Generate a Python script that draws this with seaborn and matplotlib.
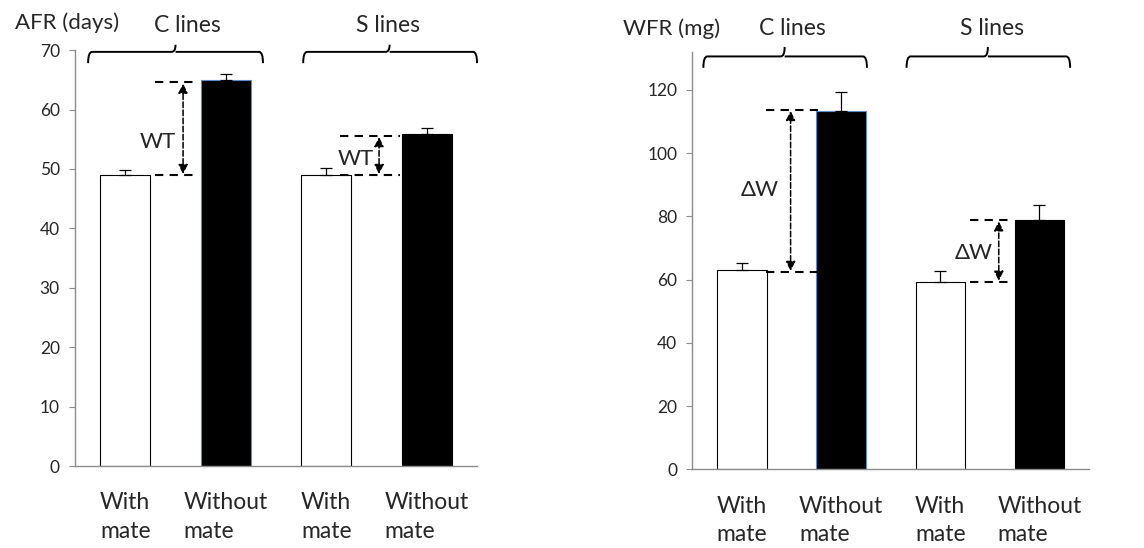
import numpy as np
import pandas as pd
import matplotlib
matplotlib.use("Agg")
import matplotlib.pyplot as plt
import seaborn as sns
from matplotlib.path import Path
from matplotlib.patches import PathPatch

# data
bar_keys = ["C_with", "C_without", "S_with", "S_without"]
tick_labels = ["With\nmate", "Without\nmate", "With\nmate", "Without\nmate"]
afr_values = [48.9, 65.0, 49.0, 55.9]
afr_errors = [1.0, 1.0, 1.1, 1.0]
wfr_values = [63.1, 113.2, 59.2, 78.9]
wfr_errors = [2.3, 6.0, 3.6, 4.7]
bar_colors = ["white", "black", "white", "black"]

sns.set_style("white")
plt.rcParams["font.family"] = ["Lato", "DejaVu Sans"]

GRAY = "#8c8c8c"

fig = plt.figure(figsize=(11.44, 5.48), dpi=100)
ax1 = fig.add_axes([0.0656, 0.1496, 0.3514, 0.759])
ax2 = fig.add_axes([0.6053, 0.1436, 0.3466, 0.7615])


def draw_bars(ax, values, errors):
    df = pd.DataFrame({"key": bar_keys, "value": values})
    sns.barplot(data=df, x="key", y="value", hue="key", palette=bar_colors,
                legend=False, width=0.5, edgecolor="black", linewidth=0.8, ax=ax)
    # blue-ish outline on the first black bar, like the original
    ax.patches[1].set_edgecolor("#5b8bc9")
    ax.errorbar(range(4), values, yerr=[[0] * 4, errors], fmt="none",
                ecolor="black", elinewidth=0.9, capsize=4, capthick=0.9)
    ax.set_xlim(-0.5, 3.5)
    ax.set_xlabel("")
    ax.set_ylabel("")
    ax.set_xticks(range(4))
    ax.set_xticklabels(tick_labels, fontsize=16.5, linespacing=1.45,
                       multialignment="left")
    ax.tick_params(axis="x", length=0, pad=19)
    ax.tick_params(axis="y", length=4, width=0.8, color=GRAY, direction="out",
                   labelsize=12.5, pad=7, left=True)
    for s in ["top", "right"]:
        ax.spines[s].set_visible(False)
    for s in ["left", "bottom"]:
        ax.spines[s].set_color(GRAY)
        ax.spines[s].set_linewidth(1.0)


def brace(ax, x0, x1, xc, y_end, y_bar, y_tip):
    dx = 0.04
    verts = [(x0, y_end), (x0, y_bar), (x0 + dx, y_bar),
             (xc - dx, y_bar), (xc, y_bar), (xc, y_tip),
             (xc, y_bar), (xc + dx, y_bar),
             (x1 - dx, y_bar), (x1, y_bar), (x1, y_end)]
    codes = [Path.MOVETO, Path.CURVE3, Path.CURVE3,
             Path.LINETO, Path.CURVE3, Path.CURVE3,
             Path.MOVETO, Path.LINETO,
             Path.LINETO, Path.CURVE3, Path.CURVE3]
    ax.add_patch(PathPatch(Path(verts, codes), fill=False, lw=1.4,
                           color="black", clip_on=False))


def delta_arrow(ax, x_lo, x_hi, x_arrow, y_low, y_high, label, lx, ly):
    for y in (y_low, y_high):
        ax.plot([x_lo, x_hi], [y, y], color="black", lw=1.5,
                ls=(0, (4, 3)), clip_on=False)
    ax.annotate("", xy=(x_arrow, y_high), xytext=(x_arrow, y_low),
                arrowprops=dict(arrowstyle="<|-|>", color="black", lw=1.1,
                                ls="--", mutation_scale=14,
                                shrinkA=1, shrinkB=1))
    ax.text(lx, ly, label, ha="center", va="center", fontsize=16)


# left panel: AFR
draw_bars(ax1, afr_values, afr_errors)
ax1.set_ylim(0, 70)
ax1.set_yticks(range(0, 71, 10))
brace(ax1, -0.37, 1.37, 0.5, 67.8, 69.7, 70.9)
brace(ax1, 1.77, 3.5, 2.63, 67.8, 69.7, 70.9)
ax1.text(0.62, 74.2, "C lines", ha="center", va="center", fontsize=16.5)
ax1.text(2.61, 74.2, "S lines", ha="center", va="center", fontsize=16.5)
delta_arrow(ax1, 0.30, 0.69, 0.575, afr_values[0], afr_values[1] - 0.4,
            "WT", 0.32, 54.5)
delta_arrow(ax1, 2.14, 2.73, 2.525, afr_values[2] - 0.1, afr_values[3] - 0.3,
            "WT", 2.29, 51.6)
fig.text(15 / 1144, 1 - 23 / 548, "AFR (days)", ha="left", va="center",
         fontsize=16)

# right panel: WFR
draw_bars(ax2, wfr_values, wfr_errors)
ax2.set_ylim(0, 132)
ax2.set_yticks(range(0, 121, 20))
brace(ax2, -0.39, 1.26, 0.43, 127.0, 130.6, 133.6)
brace(ax2, 1.66, 3.31, 2.48, 127.0, 130.6, 133.6)
ax2.text(0.51, 139.4, "C lines", ha="center", va="center", fontsize=16.5)
ax2.text(2.52, 139.4, "S lines", ha="center", va="center", fontsize=16.5)
delta_arrow(ax2, 0.24, 0.77, 0.49, wfr_values[0] - 0.8, wfr_values[1] + 0.6,
            "ΔW", 0.18, 88.4)
delta_arrow(ax2, 2.30, 2.73, 2.59, wfr_values[2], wfr_values[3],
            "ΔW", 2.34, 68.5)
fig.text(623 / 1144, 1 - 29 / 548, "WFR (mg)", ha="left", va="center",
         fontsize=16)

fig.savefig("out.png", dpi=100, facecolor="white")
